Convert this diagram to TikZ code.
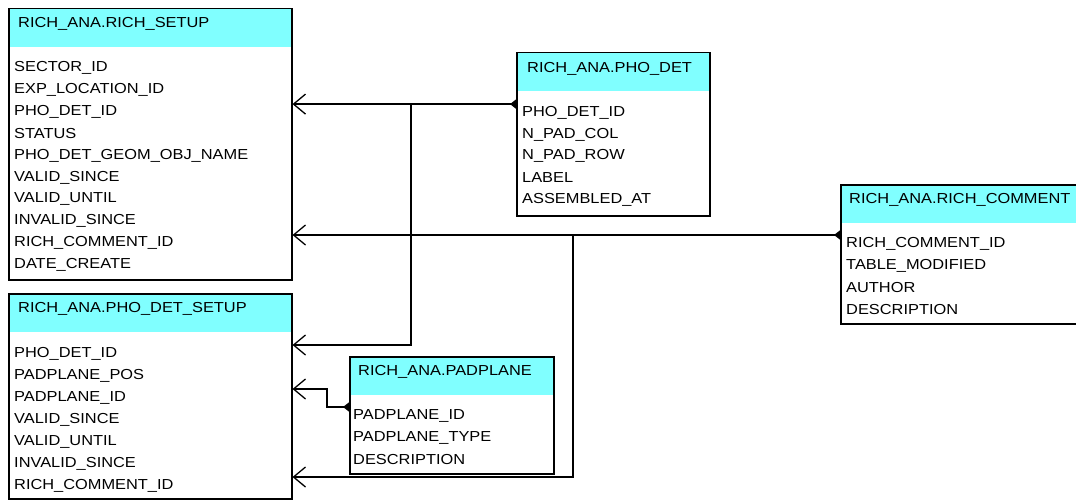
\documentclass[tikz,border=0pt]{standalone}
\usepackage{fontspec}
\newfontfamily\erfont[FakeStretch=1.13]{Liberation Sans}
\usetikzlibrary{arrows.meta,calc}
\definecolor{hdrcyan}{RGB}{128,255,255}
\tikzset{
  tbl/.style={draw, line width=1.5pt, fill=white, anchor=north west, inner sep=0pt,
    path picture={\fill[hdrcyan] (path picture bounding box.north west)
      rectangle ([yshift=-38pt]path picture bounding box.north east);}},
  field/.style={anchor=west, inner sep=0pt, font=\erfont\fontsize{14.5}{16}\selectfont},
  rel/.style={line width=1.3pt, {Triangle[reversed,length=6pt,width=9pt]}-{Straight Barb[length=12pt,width=20pt]}},
  many/.style={line width=1.3pt, -{Straight Barb[length=12pt,width=20pt]}}
}
\begin{document}
\begin{tikzpicture}[x=1pt,y=-1pt]
  \clip (0,0) rectangle (1076,500);
  % RICH_SETUP
  \node[tbl, minimum width=283pt, minimum height=271pt] (setup) at (8,8) {};
  \node[field] at (18,24) {RICH\_ANA.RICH\_SETUP};
  \foreach \f [count=\i] in {SECTOR\_ID, EXP\_LOCATION\_ID, PHO\_DET\_ID, STATUS,
      PHO\_DET\_GEOM\_OBJ\_NAME, VALID\_SINCE, VALID\_UNTIL, INVALID\_SINCE,
      RICH\_COMMENT\_ID, DATE\_CREATE}
    \node[field] (setup-\i) at (14,{46.1+21.9*\i}) {\f};
  % PHO_DET_SETUP
  \node[tbl, minimum width=283pt, minimum height=205pt] (detset) at (8,293) {};
  \node[field] at (18,309) {RICH\_ANA.PHO\_DET\_SETUP};
  \foreach \f [count=\i] in {PHO\_DET\_ID, PADPLANE\_POS, PADPLANE\_ID, VALID\_SINCE,
      VALID\_UNTIL, INVALID\_SINCE, RICH\_COMMENT\_ID}
    \node[field] (detset-\i) at (14,{332+22*\i}) {\f};
  % PHO_DET
  \node[tbl, minimum width=193pt, minimum height=163pt] (phodet) at (516,52) {};
  \node[field] at (527,69) {RICH\_ANA.PHO\_DET};
  \foreach \f [count=\i] in {PHO\_DET\_ID, N\_PAD\_COL, N\_PAD\_ROW, LABEL, ASSEMBLED\_AT}
    \node[field] (phodet-\i) at (522,{91.5+21.6*\i}) {\f};
  % RICH_COMMENT
  \node[tbl, minimum width=250pt, minimum height=139pt] (comment) at (840,184) {};
  \node[field] at (849,200) {RICH\_ANA.RICH\_COMMENT};
  \foreach \f [count=\i] in {RICH\_COMMENT\_ID, TABLE\_MODIFIED, AUTHOR, DESCRIPTION}
    \node[field] (comment-\i) at (846,{222+22*\i}) {\f};
  % PADPLANE
  \node[tbl, minimum width=204pt, minimum height=117pt] (padplane) at (349,356) {};
  \node[field] at (358,372) {RICH\_ANA.PADPLANE};
  \foreach \f [count=\i] in {PADPLANE\_ID, PADPLANE\_TYPE, DESCRIPTION}
    \node[field] (padplane-\i) at (353,{394+22*\i}) {\f};

  % relations
  \coordinate (c1) at ([yshift=9pt]phodet-1.center);
  \coordinate (c2) at ([yshift=9pt]detset-1.center);
  \coordinate (c3) at ([yshift=9pt]comment-1.center);
  \coordinate (c4) at ([yshift=9pt]detset-7.center);
  \coordinate (c5) at ([yshift=9pt]padplane-1.center);
  \coordinate (c6) at ([yshift=9pt]detset-3.center);
  \coordinate (j1) at (411,0);
  \coordinate (j2) at (573,0);
  \coordinate (j3) at (327,0);
  \draw[rel] (phodet.west |- c1) -- (setup.east |- c1);
  \draw[many] (j1 |- c1) |- (detset.east |- c2);
  \draw[rel] (comment.west |- c3) -- (setup.east |- c3);
  \draw[many] (j2 |- c3) |- (detset.east |- c4);
  \draw[rel] (padplane.west |- c5) -- (j3 |- c5) -- (j3 |- c6) -- (detset.east |- c6);
\end{tikzpicture}
\end{document}
